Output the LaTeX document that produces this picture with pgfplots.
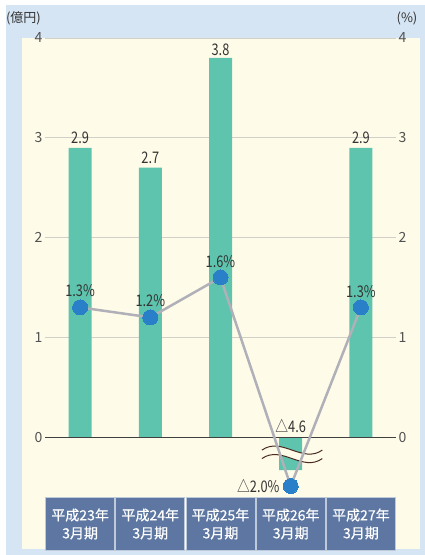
\documentclass[border=0pt]{standalone}
\usepackage{fontspec}
\usepackage{pgfplots}
\pgfplotsset{compat=1.18}
\setmainfont{Noto Sans CJK JP}
\newfontfamily\boxfont[FakeBold=0.5]{Noto Sans CJK JP}
\definecolor{bgblue}{HTML}{D6E5F4}
\definecolor{cream}{HTML}{FFFBE9}
\definecolor{barteal}{HTML}{5EC4AD}
\definecolor{linegray}{HTML}{B0B0B8}
\definecolor{dotblue}{HTML}{2A80C8}
\definecolor{boxblue}{HTML}{5D77A2}
\definecolor{gridgray}{HTML}{D0D0C8}
\definecolor{zeroline}{HTML}{404040}
\definecolor{txt}{HTML}{333333}
\definecolor{breakbrown}{HTML}{4A2A20}
\newcommand{\cn}[1]{\scalebox{0.8}[1]{#1}}
\pgfplotsset{
  common/.style={
    at={(45pt,58pt)}, anchor=south west,
    scale only axis, width=351pt, height=459pt,
    xmin=-0.5, xmax=4.5, ymin=-0.6, ymax=4,
    axis line style={draw=none},
    major tick length=0pt,
    ytick={0,1,2,3,4},
    /pgf/number format/assume math mode=true,
    yticklabel style={text=txt!85, font=\fontsize{14}{14}\selectfont, inner sep=2.5pt},
    clip=false,
  }
}
\begin{document}
\begin{tikzpicture}[x=1pt,y=1pt]
\useasboundingbox (0,0) rectangle (425,555);
\fill[white] (0,0) rectangle (425,555);
\fill[bgblue] (6,0) rectangle (425,550);
\fill[cream] (22,6) rectangle (420,517);
\node[text=txt, font=\fontsize{13}{13}\selectfont] at (23.5,537) {(億円)};
\node[text=txt, font=\fontsize{13}{13}\selectfont] at (407,537) {(\%)};

\begin{axis}[common, hide x axis, axis y line*=right]
\addplot[draw=none] coordinates {(0,0)};
\end{axis}

\begin{axis}[common,
  ymajorgrids, grid style={gridgray, line width=1pt},
  xtick={0,1,2,3,4},
  xticklabels={平成23年\\3月期, 平成24年\\3月期, 平成25年\\3月期, 平成26年\\3月期, 平成27年\\3月期},
  xticklabel style={fill=boxblue, draw=white!60!boxblue, line width=1pt, text=white,
    align=center, minimum width=69pt, minimum height=52pt, inner sep=0pt,
    anchor=north, yshift=-0.5pt, font=\boxfont\fontsize{14}{18}\selectfont},
]
\addplot[ybar, bar width=23pt, bar shift=0pt, fill=barteal, draw=none]
  coordinates {(0,2.9) (1,2.7) (2,3.8) (3,-0.33) (4,2.9)};
\draw[zeroline, line width=1pt] (axis cs:-0.5,0) -- (axis cs:4.5,0);
% break mark
\fill[cream] (axis cs:2.59,-0.13) .. controls (axis cs:2.87,0.01) and (axis cs:3.17,-0.27) .. (axis cs:3.45,-0.13)
  -- (axis cs:3.45,-0.215) .. controls (axis cs:3.17,-0.355) and (axis cs:2.87,-0.075) .. (axis cs:2.59,-0.215) -- cycle;
\draw[breakbrown, line width=1pt] (axis cs:2.59,-0.13) .. controls (axis cs:2.87,0.01) and (axis cs:3.17,-0.27) .. (axis cs:3.45,-0.13);
\draw[breakbrown, line width=1pt] (axis cs:2.59,-0.215) .. controls (axis cs:2.87,-0.075) and (axis cs:3.17,-0.355) .. (axis cs:3.45,-0.215);
% line
\addplot[linegray, line width=2.5pt, mark=*, mark size=7.5pt, mark options={solid, fill=dotblue, draw=dotblue, line width=0pt}]
  coordinates {(0,1.3) (1,1.2) (2,1.6) (3,-0.49) (4,1.3)};
% labels
\begin{scope}[every node/.style={text=txt, font=\fontsize{16}{16}\selectfont, inner sep=0pt}]
\node[anchor=south] at (axis cs:0,2.9) [yshift=4pt] {\cn{2.9}};
\node[anchor=south] at (axis cs:1,2.7) [yshift=4pt] {\cn{2.7}};
\node[anchor=south] at (axis cs:2,3.8) [yshift=2pt] {\cn{3.8}};
\node[anchor=south] at (axis cs:3,0) [yshift=4pt] {\cn{△4.6}};
\node[anchor=south] at (axis cs:4,2.9) [yshift=4pt] {\cn{2.9}};
\node at (axis cs:0,1.3) [yshift=17pt] {\cn{1.3\%}};
\node at (axis cs:1,1.2) [yshift=17pt] {\cn{1.2\%}};
\node at (axis cs:2,1.6) [yshift=16pt] {\cn{1.6\%}};
\node at (axis cs:4,1.3) [yshift=16pt] {\cn{1.3\%}};
\node[anchor=east] at (axis cs:3,-0.49) [xshift=-11pt] {\cn{△2.0\%}};
\end{scope}
\end{axis}
\end{tikzpicture}
\end{document}
